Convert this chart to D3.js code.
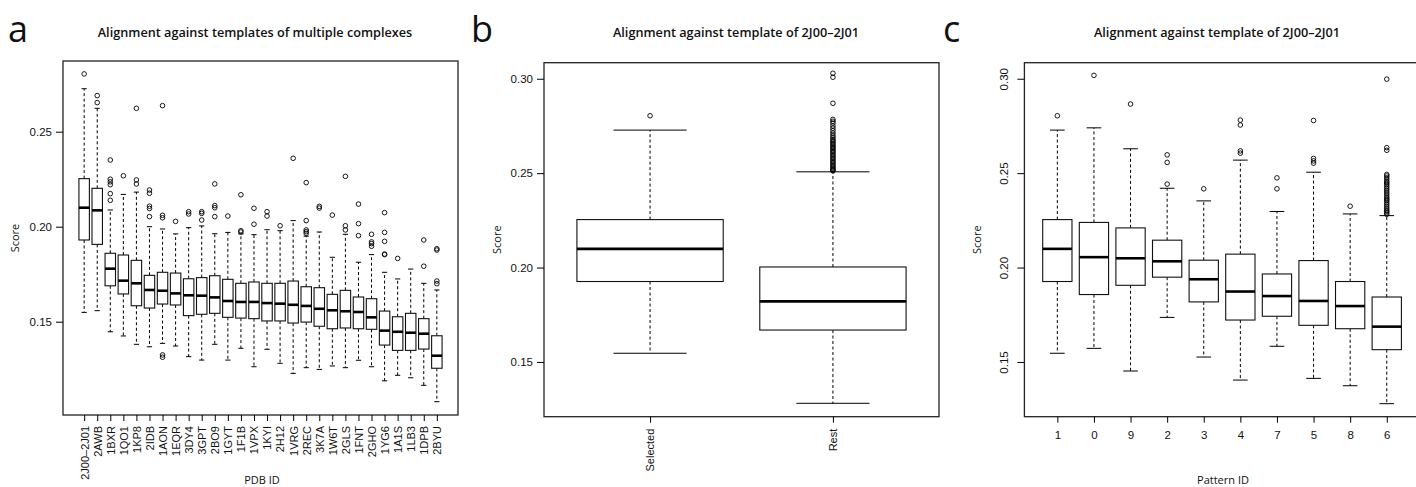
<!DOCTYPE html>
<html>
<head>
<meta charset="utf-8">
<script src="https://cdn.jsdelivr.net/npm/d3@7"></script>
<style>
  html, body { margin: 0; padding: 0; background: #fff; }
  svg { display: block; font-family: "Open Sans", "Noto Sans", sans-serif; }
</style>
</head>
<body>
<svg id="chart" width="1416" height="487"></svg>
<script>
// ---------------- Panel a data ----------------
const pdbIds = ["2J00–2J01","2AWB","1BXR","1QO1","1KP8","2IDB","1AON","1EQR","3DY4","3GPT","2BO9","1GYT","1F1B","1VPX","1KYI","2H12","1VRG","2REC","3K7A","1W6T","2GLS","1FNT","2GHO","1YG6","1A1S","1LB3","1DPB","2BYU"];
const aLower  = [0.1549,0.1558,0.1447,0.1425,0.1381,0.1368,0.1386,0.1372,0.1316,0.1298,0.1381,0.1298,0.1360,0.1263,0.1355,0.1281,0.1228,0.1258,0.1249,0.1267,0.1258,0.1297,0.1263,0.1189,0.1218,0.1205,0.1165,0.1079];
const aQ1     = [0.1930,0.1907,0.1689,0.1646,0.1584,0.1572,0.1593,0.1588,0.1532,0.1539,0.1544,0.1523,0.1519,0.1516,0.1504,0.1504,0.1493,0.1498,0.1476,0.1463,0.1467,0.1463,0.1460,0.1377,0.1349,0.1349,0.1356,0.1255];
const aMedian = [0.2100,0.2086,0.1779,0.1716,0.1702,0.1667,0.1663,0.1649,0.1639,0.1637,0.1628,0.1609,0.1604,0.1604,0.1598,0.1595,0.1589,0.1583,0.1568,0.1560,0.1555,0.1551,0.1523,0.1453,0.1447,0.1442,0.1437,0.1321];
const aQ3     = [0.2253,0.2202,0.1860,0.1851,0.1823,0.1744,0.1760,0.1756,0.1726,0.1732,0.1742,0.1723,0.1702,0.1709,0.1702,0.1702,0.1714,0.1684,0.1679,0.1644,0.1665,0.1630,0.1621,0.1556,0.1526,0.1544,0.1516,0.1426];
const aUpper  = [0.2726,0.2623,0.2088,0.2170,0.2182,0.2000,0.1988,0.1962,0.1995,0.2004,0.1963,0.1970,0.1962,0.1958,0.1984,0.1979,0.2032,0.1950,0.1972,0.1839,0.1960,0.1813,0.1853,0.1760,0.1725,0.1777,0.1702,0.1667];
const aOutliers = [
  [0.2804],
  [0.2690,0.2653],
  [0.2351,0.2250,0.2236,0.2221,0.2174,0.2139],
  [0.2268],
  [0.2623,0.2246,0.2225],
  [0.2193,0.2176,0.2108,0.2096,0.2053],
  [0.2637,0.2060,0.2047,0.1325,0.1313],
  [0.2028],
  [0.2079,0.2067],
  [0.2079,0.2070,0.2035],
  [0.2225,0.2111,0.2100,0.2053],
  [0.2056],
  [0.2168,0.1979,0.1972],
  [0.2097,0.2013],
  [0.2079,0.2056],
  [0.2005],
  [0.2360],
  [0.2232,0.2032,0.1983,0.1974,0.1965],
  [0.2107,0.2098],
  [0.2061],
  [0.2265,0.2005,0.1983],
  [0.2119,0.2016,0.1953],
  [0.1960,0.1920,0.1911,0.1897],
  [0.2074,0.1970,0.1923,0.1856,0.1853],
  [0.1833],
  [],
  [0.1930,0.1792],
  [0.1884,0.1877,0.1714,0.1700]
];
const aTicks = [0.15, 0.20, 0.25];

// ---------------- Panel b data ----------------
const groupNames = ["Selected","Rest"];
const bLower  = [0.1546,0.1281];
const bQ1     = [0.1926,0.1669];
const bMedian = [0.2099,0.1821];
const bQ3     = [0.2254,0.2003];
const bUpper  = [0.2728,0.2507];
const bOutliers = [
  [0.2804],
  [0.3029,0.3008,0.2870,0.2785,0.2775,0.2765,0.2750,0.2738,0.2725,0.2712,0.2700,0.2690,0.2680,0.2672,0.2665,0.2658,0.2650,0.2643,0.2636,0.2630,0.2622,0.2615,0.2608,0.2600,0.2592,0.2585,0.2578,0.2570,0.2562,0.2555,0.2548,0.2540,0.2533,0.2526,0.2520,0.2515,0.2512]
];
const bcTicks = [0.15, 0.20, 0.25, 0.30];

// ---------------- Panel c data ----------------
const patternIds = ["1","0","9","2","3","4","7","5","8","6"];
const cLower  = [0.1546,0.1572,0.1452,0.1736,0.1526,0.1404,0.1583,0.1413,0.1374,0.1279];
const cQ1     = [0.1926,0.1857,0.1906,0.1949,0.1818,0.1722,0.1742,0.1694,0.1676,0.1565];
const cMedian = [0.2099,0.2055,0.2049,0.2033,0.1938,0.1873,0.1849,0.1823,0.1796,0.1687];
const cQ3     = [0.2254,0.2239,0.2210,0.2145,0.2039,0.2071,0.1966,0.2037,0.1926,0.1844];
const cUpper  = [0.2728,0.2740,0.2629,0.2420,0.2353,0.2569,0.2297,0.2505,0.2284,0.2275];
const cOutliers = [
  [0.2804],
  [0.3018],
  [0.2866],
  [0.2597,0.2557,0.2442],
  [0.2417],
  [0.2781,0.2755,0.2618,0.2606],
  [0.2475,0.2417],
  [0.2779,0.2578,0.2565,0.2553],
  [0.2325],
  [0.2998,0.2635,0.2621,0.2493,0.2485,0.2475,0.2465,0.2455,0.2448,0.2440,0.2430,0.2420,0.2410,0.2400,0.2390,0.2380,0.2370,0.2362,0.2355,0.2345,0.2335,0.2325,0.2315,0.2305,0.2298,0.2290,0.2282]
];

const svg = d3.select("#chart");

function boxPanel(cfg) {
  const n = cfg.names.length;
  const pad = 0.04 * n;
  const x = d3.scaleLinear().domain([0.5 - pad, n + 0.5 + pad]).range([cfg.left, cfg.right]);
  const y = d3.scaleLinear().domain(cfg.yDomain).range([cfg.bottom, cfg.top]);
  const step = x(2) - x(1);
  const bw = step * 0.8;
  const g = svg.append("g");

  const items = cfg.names.map((name, i) => ({
    name, pos: i + 1,
    lo: cfg.lower[i], q1: cfg.q1[i], med: cfg.median[i], q3: cfg.q3[i], hi: cfg.upper[i],
    out: cfg.outliers[i]
  }));

  const bx = g.selectAll("g.box").data(items).join("g").attr("class", "box");
  bx.append("line").attr("x1", d => x(d.pos)).attr("x2", d => x(d.pos))
    .attr("y1", d => y(d.q3)).attr("y2", d => y(d.hi))
    .attr("stroke", "#000").attr("stroke-width", 1).attr("stroke-dasharray", "3,2.5");
  bx.append("line").attr("x1", d => x(d.pos)).attr("x2", d => x(d.pos))
    .attr("y1", d => y(d.q1)).attr("y2", d => y(d.lo))
    .attr("stroke", "#000").attr("stroke-width", 1).attr("stroke-dasharray", "3,2.5");
  bx.append("line").attr("x1", d => x(d.pos) - bw / 4).attr("x2", d => x(d.pos) + bw / 4)
    .attr("y1", d => y(d.hi)).attr("y2", d => y(d.hi)).attr("stroke", "#000").attr("stroke-width", 1);
  bx.append("line").attr("x1", d => x(d.pos) - bw / 4).attr("x2", d => x(d.pos) + bw / 4)
    .attr("y1", d => y(d.lo)).attr("y2", d => y(d.lo)).attr("stroke", "#000").attr("stroke-width", 1);
  bx.append("rect").attr("x", d => x(d.pos) - bw / 2).attr("width", bw)
    .attr("y", d => y(d.q3)).attr("height", d => y(d.q1) - y(d.q3))
    .attr("fill", "#fff").attr("stroke", "#111").attr("stroke-width", 1.1);
  bx.append("line").attr("x1", d => x(d.pos) - bw / 2).attr("x2", d => x(d.pos) + bw / 2)
    .attr("y1", d => y(d.med)).attr("y2", d => y(d.med)).attr("stroke", "#000").attr("stroke-width", 2.6);
  bx.selectAll("circle").data(d => d.out.map(v => ({ v, pos: d.pos }))).join("circle")
    .attr("cx", d => x(d.pos)).attr("cy", d => y(d.v)).attr("r", 2.3)
    .attr("fill", "none").attr("stroke", "#000").attr("stroke-width", 0.9);

  g.append("rect").attr("x", cfg.left).attr("y", cfg.top)
    .attr("width", cfg.right - cfg.left).attr("height", cfg.bottom - cfg.top)
    .attr("fill", "none").attr("stroke", "#222").attr("stroke-width", 1.3);

  const ya = g.append("g").attr("transform", `translate(${cfg.left},0)`)
    .call(d3.axisLeft(y).tickValues(cfg.ticks).tickFormat(d3.format(".2f")).tickSizeOuter(0).tickSize(7).tickPadding(4));
  ya.select(".domain").remove();
  ya.selectAll("line").attr("stroke", "#000");
  ya.selectAll("text").attr("font-size", 11.5).attr("fill", "#111");
  if (cfg.rotateY) {
    ya.selectAll(".tick text")
      .attr("text-anchor", "middle")
      .attr("x", 0).attr("dy", 0)
      .attr("transform", "translate(-16.5,0) rotate(-90)");
  }

  const xa = g.append("g").attr("transform", `translate(0,${cfg.bottom})`)
    .call(d3.axisBottom(x).tickValues(items.map(d => d.pos)).tickFormat(i => cfg.names[i - 1]).tickSizeOuter(0).tickSize(6));
  xa.select(".domain").remove();
  xa.selectAll("line").attr("stroke", "#000");
  xa.selectAll("text").attr("font-size", cfg.xFont).attr("fill", "#111");
  if (cfg.rotateX) {
    xa.selectAll(".tick text")
      .attr("text-anchor", "end").attr("y", 0).attr("dy", "0.35em")
      .attr("transform", `translate(0,${cfg.xLabOff}) rotate(-90)`);
  } else {
    xa.selectAll(".tick text").attr("y", 14);
  }

  svg.append("text").attr("x", cfg.titleX).attr("y", 37).attr("text-anchor", "middle")
    .attr("font-size", 12.7).attr("font-weight", 600).attr("fill", "#111").text(cfg.title);
  svg.append("text").attr("x", cfg.letterX).attr("y", 42)
    .attr("font-size", 36).attr("fill", "#111").text(cfg.letter);
  svg.append("text").attr("transform", `translate(${cfg.scoreX},${(cfg.top + cfg.bottom) / 2}) rotate(-90)`)
    .attr("text-anchor", "middle").attr("dy", "0.35em").attr("font-size", 11).attr("fill", "#111").text("Score");
  if (cfg.xTitle) {
    svg.append("text").attr("x", cfg.xTitleX).attr("y", 484).attr("text-anchor", "middle")
      .attr("font-size", 11).attr("fill", "#111").text(cfg.xTitle);
  }
}

boxPanel({
  names: pdbIds, lower: aLower, q1: aQ1, median: aMedian, q3: aQ3, upper: aUpper, outliers: aOutliers,
  left: 63, right: 458, top: 61, bottom: 415, yDomain: [0.1009, 0.2872], ticks: aTicks,
  rotateX: true, xFont: 11, xLabOff: 11, title: "Alignment against templates of multiple complexes",
  titleX: 255, letter: "a", letterX: 8, scoreX: 15, xTitle: "PDB ID", xTitleX: 262
});

boxPanel({
  names: groupNames, lower: bLower, q1: bQ1, median: bMedian, q3: bQ3, upper: bUpper, outliers: bOutliers,
  left: 544, right: 939, top: 62.7, bottom: 416.7, yDomain: [0.1210, 0.3085], ticks: bcTicks,
  rotateX: true, xFont: 11, xLabOff: 12, title: "Alignment against template of 2J00–2J01",
  titleX: 736, letter: "b", letterX: 471, scoreX: 497, xTitle: null
});

boxPanel({
  names: patternIds, lower: cLower, q1: cQ1, median: cMedian, q3: cQ3, upper: cUpper, outliers: cOutliers,
  left: 1024.4, right: 1419.7, top: 62.7, bottom: 416.7, yDomain: [0.1210, 0.3085], ticks: bcTicks,
  rotateX: false, rotateY: true, xFont: 11.5, title: "Alignment against template of 2J00–2J01",
  titleX: 1217, letter: "c", letterX: 943, scoreX: 977, xTitle: "Pattern ID", xTitleX: 1223
});
</script>
</body>
</html>
